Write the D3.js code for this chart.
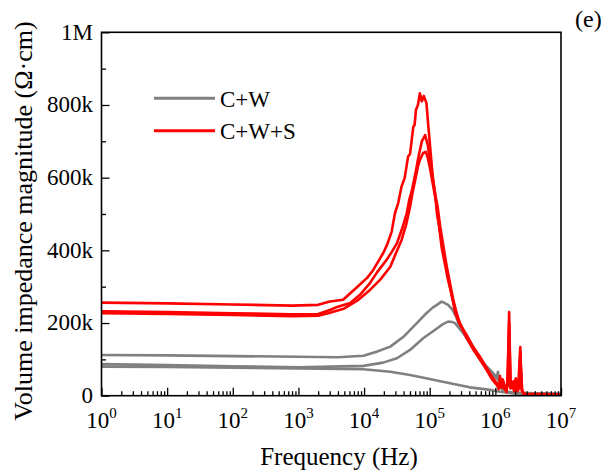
<!DOCTYPE html>
<html>
<head>
<meta charset="utf-8">
<script src="https://cdn.jsdelivr.net/npm/d3@7"></script>
</head>
<body style="margin:0">
<svg id="chart" width="607" height="475"></svg>
<script>
// ---- Data (frequency as log10(Hz), impedance in kΩ·cm) ----
const xTickExps = [0, 1, 2, 3, 4, 5, 6, 7];
const yTickVals = [0, 200, 400, 600, 800, 1000];
const yTickLabels = ["0", "200k", "400k", "600k", "800k", "1M"];
const seriesNames = ["C+W", "C+W+S"];
const seriesColors = ["#808080", "#ff0000"];

// C+W (gray) curves
const g1LogF = [0, 1, 2, 3, 3.6, 3.99, 4.19, 4.4, 4.6, 4.8, 4.95, 5.05, 5.11, 5.18, 5.23, 5.28, 5.34, 5.39, 5.46, 5.61, 5.77, 5.92, 6.0, 6.02, 6.04, 6.06, 6.12, 6.3, 7];
const g1Val  = [112, 111, 109, 107, 106, 110, 121, 135, 162, 199, 227, 243, 250, 259, 255, 250, 238, 222, 190, 144, 98, 71, 55, 52, 66, 30, 12, 8, 5];
const g2LogF = [0, 1, 2, 3, 3.99, 4.29, 4.5, 4.7, 4.9, 5.11, 5.2, 5.28, 5.34, 5.39, 5.51, 5.66, 5.82, 5.97, 6.05, 6.1, 6.2, 7];
const g2Val  = [87, 84, 81, 78, 82, 91, 103, 126, 158, 185, 197, 204, 203, 199, 172, 135, 89, 57, 43, 20, 8, 4];
const g3LogF = [0, 1, 2, 3, 3.99, 4.4, 4.7, 5.0, 5.31, 5.61, 5.92, 6.07, 6.3, 7];
const g3Val  = [80, 79, 77, 75, 73, 66, 57, 46, 34, 23, 16, 11, 6, 4];

// C+W+S (red) curves
const r1LogF = [0, 1, 2, 2.9, 3.3, 3.48, 3.6, 3.68, 3.9, 4.05, 4.14, 4.29, 4.35, 4.42, 4.47, 4.52, 4.57, 4.62, 4.67, 4.7, 4.75, 4.77, 4.79, 4.82, 4.85, 4.88, 4.91, 4.95, 4.98, 5.05, 5.08, 5.11, 5.21, 5.31, 5.39, 5.46, 5.56, 5.66, 5.77, 5.87, 5.95, 6.02, 6.05, 6.07, 6.1, 6.12, 6.15, 6.17, 6.19, 6.21, 6.23, 6.25, 6.27, 6.29, 6.31, 6.33, 6.35, 6.38, 6.4, 6.43, 7];
const r1Val  = [256, 254, 251, 248, 250, 259, 262, 264, 300, 325, 346, 392, 415, 451, 502, 530, 575, 600, 658, 665, 740, 745, 786, 800, 832, 810, 825, 805, 740, 594, 560, 502, 392, 300, 227, 197, 168, 135, 106, 76, 52, 35, 18, 54, 22, 40, 20, 10, 45, 230, 30, 38, 20, 12, 48, 25, 30, 134, 20, 5, 4];
const r2LogF = [0, 1, 2, 2.9, 3.3, 3.48, 3.6, 3.79, 3.95, 4.09, 4.2, 4.34, 4.42, 4.5, 4.58, 4.65, 4.69, 4.73, 4.78, 4.83, 4.88, 4.93, 4.97, 5.0, 5.04, 5.08, 5.12, 5.16, 5.26, 5.36, 5.44, 5.56, 5.66, 5.77, 5.87, 5.95, 6.02, 6.06, 6.1, 6.14, 6.18, 6.21, 6.23, 6.28, 6.32, 6.36, 6.38, 6.4, 6.44, 7];
const r2Val  = [232, 230, 227, 224, 225, 236, 245, 255, 280, 310, 340, 373, 395, 419, 460, 502, 540, 566, 610, 658, 700, 717, 690, 649, 610, 557, 520, 465, 355, 263, 205, 162, 132, 102, 72, 48, 32, 25, 38, 18, 30, 200, 25, 40, 15, 30, 120, 15, 4, 4];
const r3LogF = [0, 1, 2, 2.9, 3.3, 3.48, 3.7, 3.9, 4.09, 4.25, 4.4, 4.48, 4.57, 4.64, 4.7, 4.74, 4.78, 4.82, 4.85, 4.9, 4.94, 4.97, 5.0, 5.05, 5.11, 5.18, 5.28, 5.39, 5.46, 5.56, 5.66, 5.77, 5.87, 5.95, 6.02, 6.07, 6.11, 6.16, 6.2, 6.21, 6.23, 6.3, 6.34, 6.37, 6.38, 6.41, 6.45, 7];
const r3Val  = [227, 225, 222, 219, 220, 228, 240, 262, 291, 320, 355, 390, 428, 470, 520, 560, 594, 630, 649, 668, 671, 655, 630, 580, 520, 410, 318, 236, 200, 160, 128, 98, 70, 45, 30, 22, 45, 15, 35, 180, 20, 30, 12, 25, 100, 12, 4, 3];

const grayCurves = [[g1LogF, g1Val], [g2LogF, g2Val], [g3LogF, g3Val]];
const redCurves  = [[r1LogF, r1Val], [r2LogF, r2Val], [r3LogF, r3Val]];

// ---- Layout ----
const FONT = "Liberation Serif";
const L = 101.5, R = 561, T = 32.3, B = 395.7;
const svg = d3.select("#chart");
const addText = (parent, size) => parent.append("text")
  .attr("font-family", FONT).attr("font-size", size).attr("fill", "#000");

const x = d3.scaleLog().domain([1, 1e7]).range([L, R]);
const y = d3.scaleLinear().domain([0, 1000]).range([B, T]);

const line = d3.line().x(d => x(d[0])).y(d => y(d[1]));
const toPts = ([lf, v]) => lf.map((e, i) => [Math.pow(10, e), v[i]]);

const plot = svg.append("g");
plot.selectAll("path.gray").data(grayCurves).join("path")
  .attr("class", "gray")
  .attr("d", c => line(toPts(c)))
  .attr("fill", "none").attr("stroke", seriesColors[0])
  .attr("stroke-width", 2.6).attr("stroke-linejoin", "round");
plot.selectAll("path.red").data(redCurves).join("path")
  .attr("class", "red")
  .attr("d", c => line(toPts(c)))
  .attr("fill", "none").attr("stroke", seriesColors[1])
  .attr("stroke-width", 2.6).attr("stroke-linejoin", "round");

// ---- Axes (ticks from d3 axes, labels placed at scale positions) ----
const majorX = xTickExps.map(e => Math.pow(10, e));
const minorX = [];
for (let e = 0; e < 7; e++) for (let k = 2; k <= 9; k++) minorX.push(k * Math.pow(10, e));

svg.append("g").attr("transform", `translate(0,${B})`)
  .call(d3.axisBottom(x).tickValues(minorX).tickSizeInner(-4.5).tickSizeOuter(0).tickFormat(""));
svg.append("g").attr("transform", `translate(0,${B})`)
  .call(d3.axisBottom(x).tickValues(majorX).tickSizeInner(-8).tickSizeOuter(0).tickFormat(""));
const yMinorVals = [100, 300, 500, 700, 900];
svg.append("g").attr("transform", `translate(${L},0)`)
  .call(d3.axisLeft(y).tickValues(yMinorVals).tickSizeInner(-4.5).tickSizeOuter(0).tickFormat(""));
svg.append("g").attr("transform", `translate(${L},0)`)
  .call(d3.axisLeft(y).tickValues(yTickVals).tickSizeInner(-8).tickSizeOuter(0).tickFormat(""));
svg.selectAll(".tick line").attr("stroke", "#000").attr("stroke-width", 1.3);
svg.selectAll(".domain").attr("stroke", "none");
svg.selectAll(".tick text").remove();

majorX.forEach((v, i) => {
  const t = addText(svg, 23).attr("x", x(v)).attr("y", B + 32.5).attr("text-anchor", "middle");
  t.append("tspan").text("10");
  t.append("tspan").attr("dy", -10).attr("font-size", 15).text(xTickExps[i]);
});
yTickVals.forEach((v, i) => {
  addText(svg, 23).attr("x", L - 8.5).attr("y", y(v)).attr("dy", "0.32em")
    .attr("text-anchor", "end").text(yTickLabels[i]);
});

// frame
svg.append("rect").attr("x", L).attr("y", T).attr("width", R - L).attr("height", B - T)
  .attr("fill", "none").attr("stroke", "#000").attr("stroke-width", 1.6);

// ---- Titles ----
addText(svg, 25).attr("x", 339).attr("y", 465).attr("text-anchor", "middle").text("Frequency (Hz)");
addText(svg, 26).attr("transform", "translate(32,221) rotate(-90)").attr("text-anchor", "middle")
  .text("Volume impedance magnitude (Ω·cm)");
addText(svg, 24).attr("x", 575).attr("y", 27).text("(e)");

// ---- Legend ----
const legY = [98.3, 130.7];
seriesNames.forEach((name, i) => {
  svg.append("line").attr("x1", 154).attr("x2", 215).attr("y1", legY[i]).attr("y2", legY[i])
    .attr("stroke", seriesColors[i]).attr("stroke-width", 3);
  addText(svg, 23).attr("x", 220).attr("y", legY[i] + 8.2).text(name);
});
</script>
</body>
</html>
